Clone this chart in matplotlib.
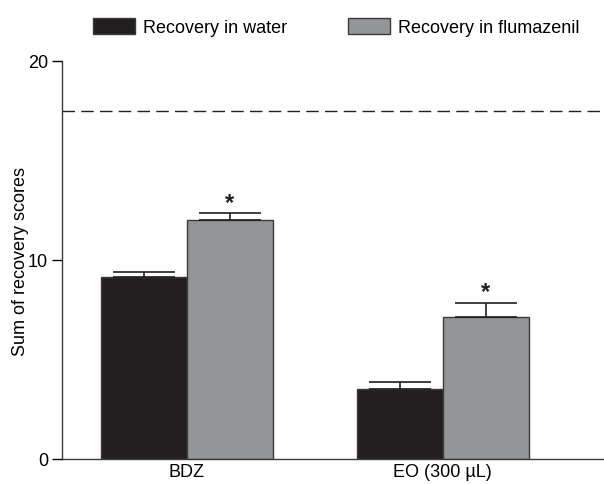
import numpy as np
import matplotlib
matplotlib.use("Agg")
import matplotlib.pyplot as plt

plt.rcParams['font.family'] = ['Liberation Sans', 'DejaVu Sans']

# data
groups = ["BDZ", "EO (300 µL)"]
water = [9.15, 3.5]
water_err = [0.25, 0.35]
fluma = [12.0, 7.15]
fluma_err = [0.35, 0.7]
baseline = 17.5
signif = [True, True]  # flumazenil vs water

dark = "#231f20"
gray = "#939598"
edge = "#3a3a3a"

fig = plt.figure(figsize=(6.04, 4.85), dpi=100)
ax = fig.add_axes([62/604, 25/485, 542/604, 398/485])

x = np.arange(len(groups))
w = 0.336
ax.bar(x - w/2, water, w, color=dark, edgecolor=edge, linewidth=1,
       label="Recovery in water", zorder=2)
ax.bar(x + w/2, fluma, w, color=gray, edgecolor=edge, linewidth=1,
       label="Recovery in flumazenil", zorder=2)

# upper error bars only
ax.errorbar(x - w/2, water, yerr=[np.zeros(len(water)), water_err], fmt="none",
            ecolor=dark, elinewidth=1.2, capsize=22, capthick=1.2, zorder=3)
ax.errorbar(x + w/2, fluma, yerr=[np.zeros(len(fluma)), fluma_err], fmt="none",
            ecolor=dark, elinewidth=1.2, capsize=22, capthick=1.2, zorder=3)

for i in range(len(groups)):
    if signif[i]:
        ax.text(x[i] + w/2, fluma[i] + fluma_err[i] + 0.55, "*", ha="center",
                va="center", fontsize=17, fontweight="bold", color=dark)

ax.axhline(baseline, color=dark, linestyle=(0, (9, 4.5)), linewidth=1, zorder=1)

ax.set_xlim(-0.488, 1.63)
ax.set_ylim(0, 20)
ax.set_yticks([0, 10, 20])
ax.set_xticks(x)
ax.set_xticklabels(groups, fontsize=13)
ax.tick_params(axis="x", length=0, pad=3)
ax.tick_params(axis="y", length=7, width=1, labelsize=13, pad=3)
ax.set_ylabel("Sum of recovery scores", fontsize=13)
ax.yaxis.set_label_coords(-33/542, 0.5)

for s in ["top", "right"]:
    ax.spines[s].set_visible(False)
for s in ["left", "bottom"]:
    ax.spines[s].set_color(edge)
    ax.spines[s].set_linewidth(1)

fig.legend(loc="upper center", bbox_to_anchor=(0.557, 0.995), ncol=2, frameon=False,
           fontsize=13, handlelength=2.3, handleheight=1.0, columnspacing=3.4,
           handletextpad=0.45)

fig.savefig("out.png", dpi=100)
